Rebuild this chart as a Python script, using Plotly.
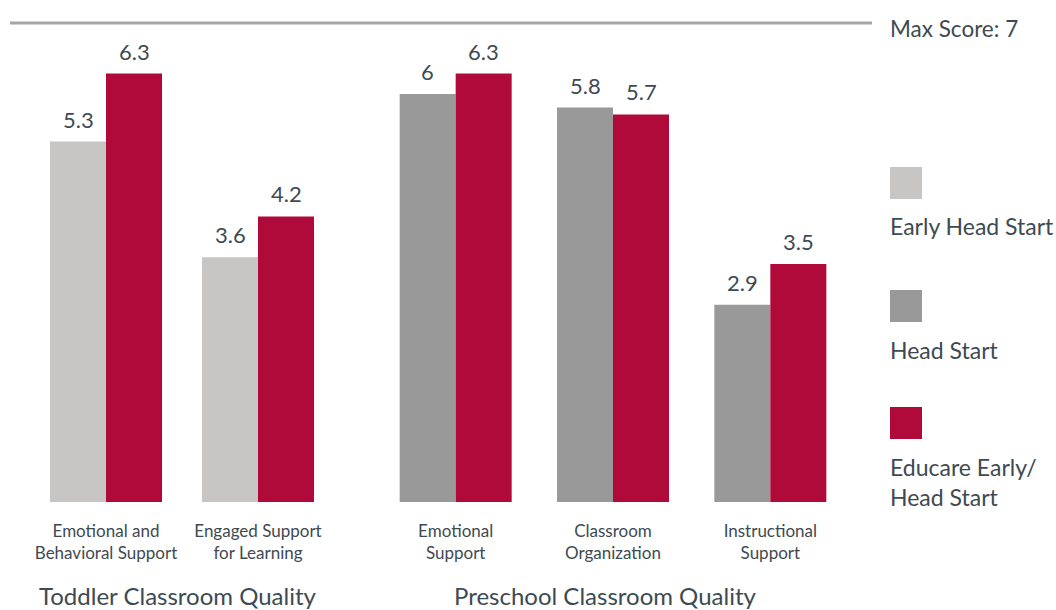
import plotly.graph_objects as go

# ---- data ----
series_names = ["Early Head Start", "Head Start", "Educare Early/<br>Head Start"]
toddler_categories = ["Emotional and<br>Behavioral Support", "Engaged Support<br>for Learning"]
toddler_ehs = [5.3, 3.6]
toddler_educare = [6.3, 4.2]
preschool_categories = ["Emotional<br>Support", "Classroom<br>Organization", "Instructional<br>Support"]
preschool_hs = [6, 5.8, 2.9]
preschool_educare = [6.3, 5.7, 3.5]
group_titles = ["Toddler Classroom Quality", "Preschool Classroom Quality"]
max_score = 7

# ---- style ----
W, H = 1056, 610
C_EHS = "#c8c6c5"
C_HS = "#999999"
C_EDU = "#b00a3a"
TXT = "#3e4a52"
FONT = "Lato"

def px(x):
    return x / W

def py(y):
    return (H - y) / H

base_px = 502
scale = 68.0  # px per unit
y_top = base_px / scale

fig = go.Figure()

# subplot geometry (pixels)
tod_dom = (30, 334)
pre_dom = (377, 849)
bar_px = 56

def add_pair(cats, left_vals, right_vals, left_name, right_name, left_color, xa, ya, dom):
    spacing = (dom[1] - dom[0]) / len(cats)
    bw = bar_px / spacing
    for vals, name, color, off in [(left_vals, left_name, left_color, -bw),
                                   (right_vals, right_name, C_EDU, 0)]:
        fig.add_trace(go.Bar(
            x=cats, y=vals, name=name, width=bw, offset=off,
            marker=dict(color=color, line=dict(width=0)),
            xaxis=xa, yaxis=ya, showlegend=False, hoverinfo="skip",
        ))
        for i, v in enumerate(vals):
            fig.add_annotation(
                xref=xa, yref=ya, x=i + off + bw / 2, y=v, yanchor="bottom",
                xanchor="center", yshift=7, text=f"{v:g}", showarrow=False,
                font=dict(family=FONT, size=22, color=TXT),
            )

add_pair(toddler_categories, toddler_ehs, toddler_educare, series_names[0],
         series_names[2], C_EHS, "x", "y", tod_dom)
add_pair(preschool_categories, preschool_hs, preschool_educare, series_names[1],
         series_names[2], C_HS, "x2", "y2", pre_dom)

axis_common = dict(showgrid=False, zeroline=False, showline=False, ticks="",
                   tickfont=dict(family=FONT, size=17, color=TXT),
                   ticklabelstandoff=17, fixedrange=True)
yaxis_common = dict(range=[0, y_top], domain=[py(base_px), 1], visible=False, fixedrange=True)

fig.update_layout(
    width=W, height=H,
    margin=dict(l=0, r=0, t=0, b=0),
    paper_bgcolor="white", plot_bgcolor="white",
    barmode="overlay",
    font=dict(family=FONT, color=TXT),
    xaxis=dict(domain=[px(tod_dom[0]), px(tod_dom[1])], anchor="y",
               range=[-0.5, len(toddler_categories) - 0.5], **axis_common),
    xaxis2=dict(domain=[px(pre_dom[0]), px(pre_dom[1])], anchor="y2",
                range=[-0.5, len(preschool_categories) - 0.5], **axis_common),
    yaxis=dict(anchor="x", **yaxis_common),
    yaxis2=dict(anchor="x2", matches="y", **yaxis_common),
    showlegend=False,
)

# max score line
fig.add_shape(type="line", xref="paper", yref="paper", x0=px(10), x1=px(872),
              y0=py(23), y1=py(23), line=dict(color="#a6a6a6", width=3))
fig.add_annotation(xref="paper", yref="paper", x=px(888), y=py(29), xanchor="left",
                   yanchor="middle", text=f"Max Score: {max_score}", showarrow=False,
                   font=dict(family=FONT, size=22.5, color=TXT))

# group titles
for title, cx in zip(group_titles, [178, 605]):
    fig.add_annotation(xref="paper", yref="paper", x=px(cx), y=py(595), xanchor="center",
                       yanchor="middle", text=title, showarrow=False,
                       font=dict(family=FONT, size=24, color=TXT))

# custom legend
legend_items = [
    (series_names[0], C_EHS, 167, 226),
    (series_names[1], C_HS, 290, 350),
    (series_names[2], C_EDU, 407, 482),
]
for name, color, sq_top, txt_y in legend_items:
    fig.add_shape(type="rect", xref="paper", yref="paper", x0=px(890), x1=px(922),
                  y0=py(sq_top + 32), y1=py(sq_top), fillcolor=color, line=dict(width=0))
    fig.add_annotation(xref="paper", yref="paper", x=px(888), y=py(txt_y), xanchor="left",
                       yanchor="middle", align="left", text=name, showarrow=False,
                       font=dict(family=FONT, size=23, color=TXT))

fig.write_html("out.html", config={"displayModeBar": False},
               post_script="document.body.style.margin='0';document.body.style.overflow='hidden';")
